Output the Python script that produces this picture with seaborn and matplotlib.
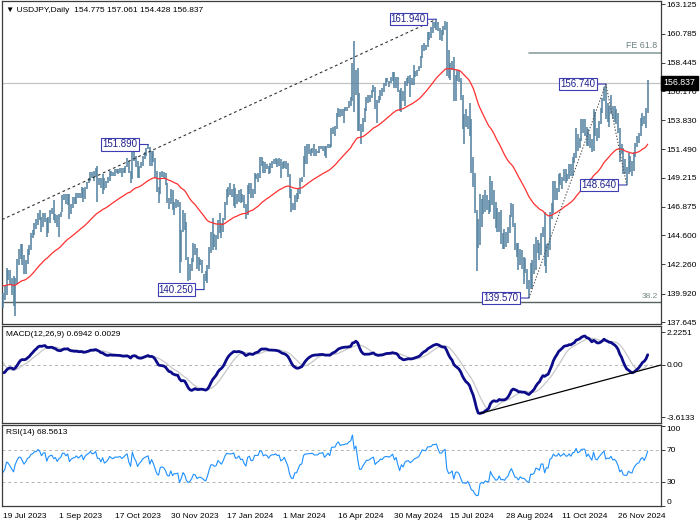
import numpy as np
import pandas as pd
import matplotlib
matplotlib.use("Agg")
import matplotlib.pyplot as plt
import seaborn as sns
from matplotlib.transforms import blended_transform_factory

sns.set_style("white")
plt.rcParams["font.family"] = ["Liberation Sans", "DejaVu Sans"]

# ---------------- data (USDJPY daily) ----------------
highs = [
    # Jul 2023
    140.0,140.5,142.0,141.8,141.8,141.2,141.3,141.2,142.7,
    # Aug 2023
    143.5,143.9,143.9,143.0,142.6,143.5,143.8,144.8,145.0,145.6,145.9,146.4,146.6,146.1,146.4,146.4,146.0,146.1,146.6,146.8,147.4,146.3,146.2,
    # Sep 2023
    146.3,146.5,147.8,147.9,147.9,147.9,147.9,147.1,147.7,147.7,148.0,148.0,148.0,148.5,148.4,148.5,148.9,149.2,149.7,149.7,149.8,
    # Oct 2023
    150.0,150.2,149.2,149.2,149.5,149.2,149.0,149.3,149.8,149.8,149.7,149.9,149.9,149.9,150.0,150.0,150.0,150.2,150.8,150.6,149.8,151.7,
    # Nov 2023
    151.7,151.0,150.6,150.2,150.5,151.0,151.3,151.6,151.89,151.7,151.4,151.4,150.8,149.8,148.5,149.7,149.8,149.7,149.6,148.8,147.6,148.3,
    # Dec 2023
    148.2,147.3,147.5,147.4,147.3,145.0,146.6,146.4,145.7,142.9,142.3,142.8,144.0,143.9,143.6,142.9,142.7,142.6,141.5,141.7,
    # Jan 2024
    142.2,143.7,144.9,145.98,144.7,144.6,145.8,146.4,145.6,146.0,147.3,148.3,148.5,148.8,148.3,148.7,148.4,147.9,148.2,148.3,147.9,147.8,
    # Feb 2024
    147.1,148.6,148.8,148.8,148.3,149.6,149.5,149.6,150.9,150.9,150.6,150.5,150.3,150.2,150.4,150.6,150.7,150.8,150.7,150.8,150.7,
    # Mar 2024
    150.5,150.6,150.6,150.4,149.5,148.3,147.2,147.8,148.0,148.4,149.2,149.3,151.0,151.8,151.9,151.9,151.5,151.6,151.97,151.5,151.4,
    # Apr 2024
    151.8,151.8,151.8,151.8,151.8,151.9,151.9,153.2,153.3,153.4,154.4,154.8,154.7,154.7,154.7,154.9,154.9,155.4,155.7,158.4,160.2,157.9,
    # May 2024
    158.0,156.0,153.5,154.0,154.8,155.7,155.9,155.9,156.3,156.7,156.5,155.5,155.8,156.3,156.4,156.8,157.2,157.2,157.0,157.3,157.7,157.7,157.3,
    # Jun 2024
    157.3,156.3,156.4,156.2,157.0,157.2,157.4,157.5,157.2,158.3,157.8,157.9,158.2,159.0,159.9,160.0,159.9,160.9,160.9,161.3,
    # Jul 2024
    161.7,161.7,161.94,161.7,161.2,161.1,161.4,161.8,161.7,159.5,158.4,158.6,158.9,157.5,157.9,157.9,157.2,155.9,154.3,154.7,154.2,155.2,153.9,
    # Aug 2024
    150.9,149.6,146.6,145.9,147.9,147.5,147.8,148.2,147.8,147.4,149.4,149.0,148.2,147.3,146.8,146.5,146.6,144.8,145.1,144.9,145.3,146.2,
    # Sep 2024
    147.2,147.1,145.6,144.0,144.0,143.5,143.4,142.9,142.8,141.9,141.0,142.4,142.6,143.9,144.5,144.2,144.0,144.8,145.3,146.5,143.9,
    # Oct 2024
    144.0,146.5,147.2,149.0,149.0,148.4,149.5,149.6,149.3,149.9,149.9,149.5,150.3,150.3,150.9,151.2,153.2,152.7,152.4,153.9,153.9,153.9,153.3,
    # Nov 2024
    153.1,152.7,152.3,154.7,154.5,153.2,153.8,154.8,155.6,156.5,156.74,155.2,155.0,155.9,155.0,155.0,154.7,154.4,153.2,151.9,151.6,
    # Dec 2024
    150.7,150.1,151.2,151.0,150.6,151.3,152.0,152.6,152.8,154.0,154.4,154.2,154.8,157.061,
]
lows = [
    138.8,139.4,139.8,141.0,140.7,139.8,138.9,138.1,140.7,
    142.2,142.7,142.2,141.5,141.5,142.3,143.0,143.4,144.4,144.6,145.1,145.4,145.8,144.9,145.3,145.7,144.5,144.8,145.6,146.3,145.8,145.6,145.3,
    144.5,146.1,146.5,147.4,147.1,147.0,145.9,146.3,146.8,147.1,147.1,147.6,147.6,147.6,147.3,147.5,148.3,148.8,149.0,149.2,149.0,
    149.3,147.3,148.6,148.4,147.9,148.2,148.4,148.8,149.0,149.4,149.4,149.4,149.6,149.5,149.6,149.3,149.6,149.6,150.1,149.6,148.8,149.1,
    150.6,150.1,149.2,149.2,150.0,150.2,150.7,151.0,151.5,150.2,150.2,150.5,149.2,148.1,147.2,147.9,149.3,149.2,148.6,147.2,146.7,147.1,
    146.6,146.2,146.8,146.9,141.6,142.5,144.9,145.0,142.6,140.95,141.0,141.7,142.5,143.0,141.9,141.7,142.2,141.6,140.25,140.9,
    140.8,141.9,143.2,143.4,143.7,143.4,144.3,144.8,144.4,144.9,145.8,147.0,147.7,147.8,147.7,146.98,146.8,147.1,147.3,147.2,147.3,146.8,
    145.9,146.2,147.9,147.6,147.6,147.9,149.1,148.9,149.2,150.2,149.6,149.6,149.9,149.5,149.6,150.0,150.3,150.3,150.1,150.2,149.2,
    149.9,150.0,149.9,149.3,147.6,146.5,146.6,146.6,147.3,147.5,147.9,148.9,149.3,150.3,150.3,151.1,151.0,151.2,151.0,151.0,151.2,
    151.2,151.5,151.4,151.0,150.8,151.6,151.6,151.7,152.7,152.6,153.1,154.1,154.1,154.2,153.6,154.6,154.6,154.8,155.0,155.4,154.5,155.9,
    153.0,153.0,151.9,152.9,153.7,154.6,155.2,155.3,155.6,156.1,154.7,153.6,155.2,155.5,155.8,156.1,156.6,156.9,156.5,156.8,157.0,156.4,156.4,
    156.1,154.6,154.5,155.4,155.0,156.6,156.8,155.7,156.7,156.7,157.3,157.4,157.8,158.0,158.8,159.4,159.5,159.7,160.3,160.4,
    160.8,161.2,161.1,161.0,160.3,160.2,160.7,161.1,157.4,157.2,157.1,157.9,155.4,155.4,157.0,156.9,155.5,153.1,151.9,153.3,153.1,152.6,149.6,
    148.5,146.4,141.7,143.6,143.8,145.3,146.3,146.5,146.6,146.3,146.5,147.0,145.9,145.2,144.9,144.9,143.9,143.5,143.5,143.7,144.0,144.8,
    146.1,145.3,143.4,142.9,141.8,142.2,141.9,140.7,141.6,140.3,139.57,140.3,140.4,141.5,141.8,143.2,142.6,143.0,144.5,142.1,141.6,
    142.9,143.4,145.9,146.4,147.4,147.4,148.1,148.6,148.3,149.0,148.8,149.0,149.1,149.4,149.4,150.4,150.8,151.4,151.6,152.2,152.8,152.6,151.8,
    151.8,151.6,151.3,151.4,152.6,152.2,152.4,153.5,154.4,155.4,153.9,153.7,153.3,154.3,153.9,153.7,153.5,152.8,150.5,151.1,149.5,
    149.5,148.64,149.5,149.7,149.4,149.8,150.9,151.7,152.0,152.6,153.4,153.5,153.2,154.428,
]
closes = [
    139.6,140.1,141.8,141.5,140.9,140.2,139.5,141.2,142.3,
    143.3,143.3,142.6,141.8,142.4,143.4,143.7,144.7,144.9,145.6,145.6,146.4,146.1,145.4,146.2,146.3,144.8,146.0,146.4,146.5,145.9,146.2,145.5,
    146.2,146.5,147.7,147.7,147.3,147.8,146.5,147.1,147.4,147.5,147.9,147.6,147.9,148.3,147.6,148.4,148.8,149.1,149.6,149.3,149.4,
    149.9,149.0,149.0,148.5,149.3,148.5,148.7,149.1,149.8,149.6,149.5,149.8,149.8,149.8,149.9,149.7,149.9,150.2,150.4,149.6,149.1,151.7,
    150.9,150.4,149.4,150.0,150.4,151.0,151.3,151.5,151.7,150.4,151.4,150.7,149.6,148.3,147.9,149.5,149.6,149.4,148.7,147.4,147.2,148.2,
    146.8,147.2,147.2,147.3,144.1,144.9,146.2,145.4,142.9,141.9,142.2,142.8,143.8,143.6,142.1,142.4,142.4,142.0,141.4,141.0,
    141.9,143.3,144.6,144.6,144.2,144.4,145.7,145.3,144.9,145.8,147.2,148.2,148.1,148.1,148.1,148.4,147.5,147.6,148.1,147.5,147.6,146.9,
    146.4,148.4,148.7,147.9,148.0,149.3,149.3,149.3,150.7,150.6,149.9,150.2,150.1,149.7,150.3,150.5,150.5,150.7,150.5,150.6,149.9,
    150.1,150.5,150.0,149.4,148.0,147.0,146.9,147.7,147.7,148.3,149.0,149.1,150.9,151.3,151.3,151.4,151.4,151.5,151.3,151.3,151.3,
    151.6,151.6,151.7,151.3,151.6,151.9,151.7,153.2,153.3,153.3,154.2,154.7,154.4,154.6,154.6,154.8,154.8,155.3,155.6,158.3,156.7,157.8,
    155.6,153.0,153.0,153.9,154.7,155.5,155.5,155.8,156.2,156.4,154.9,155.4,155.7,156.3,156.2,156.8,157.0,157.0,156.9,157.2,157.6,156.8,157.3,
    156.1,154.9,156.1,155.6,156.7,157.0,157.1,156.7,157.0,157.4,157.7,157.8,158.1,158.9,159.8,159.7,159.7,160.8,160.8,160.9,
    161.5,161.5,161.7,161.2,160.8,160.8,161.3,161.6,158.9,157.9,158.0,158.3,156.2,157.4,157.5,157.0,155.6,153.9,153.9,153.7,154.0,152.7,149.9,
    149.4,146.5,144.2,144.3,146.8,147.2,146.6,147.2,146.7,146.8,149.3,147.6,146.6,145.2,145.3,146.3,144.4,144.5,144.0,144.6,145.0,146.2,
    147.0,145.5,143.7,143.4,142.3,143.1,142.4,142.4,141.8,140.8,140.6,142.4,142.3,142.6,143.8,143.6,143.2,144.8,144.8,142.2,143.6,
    143.5,146.4,146.9,148.7,148.2,148.2,149.3,148.6,149.1,149.8,149.2,149.2,150.0,149.5,150.8,151.0,152.7,151.8,152.3,153.3,153.4,153.4,152.0,
    152.9,152.2,151.6,154.6,152.9,152.6,153.7,154.6,155.5,156.3,154.3,154.7,154.6,155.4,154.5,154.7,154.2,153.1,151.1,151.6,149.8,
    149.6,149.6,150.6,150.1,150.0,151.2,151.9,152.4,152.6,153.7,154.1,153.5,154.7,156.837,
]
# closes before the visible window (24 Apr - 18 Jul 2023), only used to warm up the indicators
warmup_closes = [
    134.3,133.7,133.6,133.9,136.3,
    137.5,136.6,134.6,134.3,134.8,135.1,135.2,134.3,134.5,135.7,136.1,136.4,137.6,138.7,137.9,138.6,138.6,139.5,140.1,140.6,140.4,139.8,139.3,
    138.8,140.0,139.6,139.6,140.1,139.0,139.4,139.5,140.2,140.0,140.3,141.8,141.9,141.5,141.9,143.1,143.7,143.5,144.0,144.4,144.8,144.3,
    144.6,144.5,144.6,144.0,142.2,141.3,140.3,138.4,138.0,138.8,138.7,138.9,
]
last_open = 154.775
date_labels = ["19 Jul 2023", "1 Sep 2023", "17 Oct 2023", "30 Nov 2023", "17 Jan 2024", "1 Mar 2024",
               "16 Apr 2024", "30 May 2024", "15 Jul 2024", "28 Aug 2024", "11 Oct 2024", "26 Nov 2024"]
price_ticks = [163.125, 160.785, 158.445, 156.170, 153.830, 151.490, 149.215, 146.875, 144.600, 142.260, 139.920, 137.645]
macd_ticks = [2.2251, 0.0, -3.6133]
rsi_ticks = [100, 70, 30, 0]
swing_dates = ["2023-11-13", "2023-12-28", "2024-07-03", "2024-09-16", "2024-11-15", "2024-12-03"]
swing_kind = ["H", "L", "H", "L", "H", "L"]
trend_start_price = 145.9          # dashed trendline value at the first bar
fibo_points = ["2024-09-16", "2024-11-15", "2024-12-03"]   # FE tool A, B, C
fe_ratio = 0.618
retr_382_level = 139.27
macd_text = "MACD(12,26,9) 0.6942 0.0029"
rsi_text = "RSI(14) 68.5613"

# ---------------- derived series ----------------
n = len(closes)
idx = np.arange(n)
holidays = pd.to_datetime(["2023-12-25", "2024-01-01"])
dates = pd.bdate_range("2023-07-19", "2024-12-31")
dates = dates[~dates.isin(holidays)][:n]
pos = {d.strftime("%Y-%m-%d"): i for i, d in enumerate(dates)}

full = pd.Series(warmup_closes + closes, dtype=float)
ma50 = full.ewm(span=50, adjust=True).mean().values[-n:]
macd_full = full.ewm(span=12, adjust=False).mean() - full.ewm(span=26, adjust=False).mean()
sig_full = macd_full.rolling(9).mean()
macd = macd_full.values[-n:]
sig = sig_full.values[-n:]
delta = full.diff()
gain = delta.clip(lower=0).ewm(alpha=1 / 14, adjust=False).mean()
loss = (-delta.clip(upper=0)).ewm(alpha=1 / 14, adjust=False).mean()
rsi = (100 - 100 / (1 + gain / loss)).values[-n:]

# ---------------- figure ----------------
W, H = 700, 525
fig = plt.figure(figsize=(7, 5.25), dpi=100)
fig.patch.set_facecolor("white")


def ax_px(x0, y0, x1, y1):
    return fig.add_axes([x0 / W, 1 - y1 / H, (x1 - x0) / W, (y1 - y0) / H])


ax1 = ax_px(2, 0.5, 661, 323.5)
ax2 = ax_px(2, 325.5, 661, 422.5)
ax3 = ax_px(2, 424.5, 661, 506)
XL = (-0.6, 376.6)
FS = 6.0

for ax in (ax1, ax2, ax3):
    ax.set_facecolor("white")
    for s in ax.spines.values():
        s.set_color("#3c3c3c")
        s.set_linewidth(0.9)
    ax.yaxis.tick_right()
    ax.tick_params(axis="y", direction="out", length=3, width=0.7, pad=1.2, labelsize=FS,
                   colors="#3c3c3c", labelcolor="black")
    ax.set_xlim(*XL)

# ---- main price panel ----
bar_color = "#5583a1"
ax1.vlines(idx, lows, highs, color=bar_color, lw=1.15, zorder=3)
sns.lineplot(x=idx, y=ma50, ax=ax1, color="#ff3030", lw=0.9, zorder=4)

ax1.axhline(closes[-1], color="#c4c4c4", lw=0.9, zorder=1)
ax1.axhline(retr_382_level, color="#55625f", lw=1.0, zorder=2)
tr = blended_transform_factory(ax1.transAxes, ax1.transData)
ax1.text(0.995, retr_382_level + 0.15, "38.2", transform=tr, ha="right", va="bottom",
         fontsize=FS, color="#7a8888")

# dashed trendline: from left edge to the 161.94 top
i_top = pos["2024-07-03"]
slope = (highs[i_top] - trend_start_price) / i_top
xs = np.array([XL[0], i_top])
ax1.plot(xs, trend_start_price + slope * xs, color="#333333", lw=0.8, ls=(0, (2.5, 2.5)), zorder=5)

# Fibonacci expansion
ia, ib, ic = (pos[d] for d in fibo_points)
pa, pb, pc = lows[ia], highs[ib], lows[ic]
ax1.plot([ia, ib, ic], [pa, pb, pc], color="#555555", lw=0.8, ls=(0, (1.2, 1.6)), zorder=5)
fe = pc + fe_ratio * (pb - pa)
ax1.plot([ia, XL[1]], [fe, fe], color="#8aa0a0", lw=1.2, zorder=2)
ax1.text(0.995, fe + 0.2, "FE 61.8", transform=tr, ha="right", va="bottom", fontsize=6.4, color="#6b8080")

# swing labels
for d, k in zip(swing_dates, swing_kind):
    i = pos[d]
    p = highs[i] if k == "H" else lows[i]
    ax1.annotate(f"{p:.3f}", xy=(i, p), xytext=(-7.5, 0), textcoords="offset points",
                 ha="right", va="center", fontsize=7, color="#20208c",
                 bbox=dict(boxstyle="square,pad=0.12", fc="white", ec="#3c3cb4", lw=0.8),
                 arrowprops=dict(arrowstyle="-", color="#3c3cb4", lw=0.8, shrinkA=0, shrinkB=0),
                 zorder=6)

ax1.set_ylim(137.525, 163.446)
ax1.set_yticks(price_ticks)
ax1.set_yticklabels([f"{v:.3f}" for v in price_ticks])
ax1.set_xticks([])
ax1.text(1.004, closes[-1], f"{closes[-1]:.3f}", transform=tr, ha="left", va="center",
         fontsize=6.3, color="white", zorder=10, clip_on=False,
         bbox=dict(boxstyle="square,pad=0.25", fc="black", ec="black"))

fig.text(6 / W, 1 - 10 / H,
         f"\u25BC USDJPY,Daily  {last_open:.3f} {highs[-1]:.3f} {lows[-1]:.3f} {closes[-1]:.3f}",
         ha="left", va="center", fontsize=FS, color="black")

# ---- MACD panel ----
ax2.axhline(0, color="#b4b4b4", lw=0.7, ls=(0, (3, 3)))
sns.lineplot(x=idx, y=sig, ax=ax2, color="#c8c8c8", lw=0.9)
sns.lineplot(x=idx, y=macd, ax=ax2, color="#0c0c8a", lw=2.0)
i1 = int(np.nanargmin(macd))
i2 = int(np.nanargmin(macd[-20:])) + n - 20
ms = (macd[i2] - macd[i1]) / (i2 - i1)
ax2.plot([i1, XL[1]], [macd[i1], macd[i1] + ms * (XL[1] - i1)], color="black", lw=0.9)
ax2.set_ylim(-3.970, 2.692)
ax2.set_yticks(macd_ticks)
ax2.set_yticklabels(["2.2251", "0.00", "-3.6133"])
ax2.set_xticks([])
fig.text(6.5 / W, 1 - 334 / H, macd_text, ha="left", va="center", fontsize=FS, color="black")

# ---- RSI panel ----
for lv in (30, 70):
    ax3.axhline(lv, color="#b4b4b4", lw=0.7, ls=(0, (3, 3)))
sns.lineplot(x=idx, y=rsi, ax=ax3, color="#1e90ff", lw=0.8)
ax3.set_ylim(0.6, 101.6)
ax3.set_yticks(rsi_ticks)
ax3.set_yticklabels([str(v) for v in rsi_ticks])
tl = ax3.get_yticklabels()
tl[0].set_va("top")
tl[-1].set_va("bottom")
ax3.set_xticks(np.arange(len(date_labels)) * 32)
ax3.set_xticklabels(date_labels, ha="left")
ax3.tick_params(axis="x", direction="out", length=3, width=0.7, pad=1.8, labelsize=FS,
                colors="#3c3c3c", labelcolor="black")
fig.text(6.5 / W, 1 - 433 / H, rsi_text, ha="left", va="center", fontsize=FS, color="black")

for ax in (ax1, ax2, ax3):
    ax.set_xlabel("")
    ax.set_ylabel("")
    ax.set_xlim(*XL)

fig.savefig("out.png", dpi=100, facecolor="white")
